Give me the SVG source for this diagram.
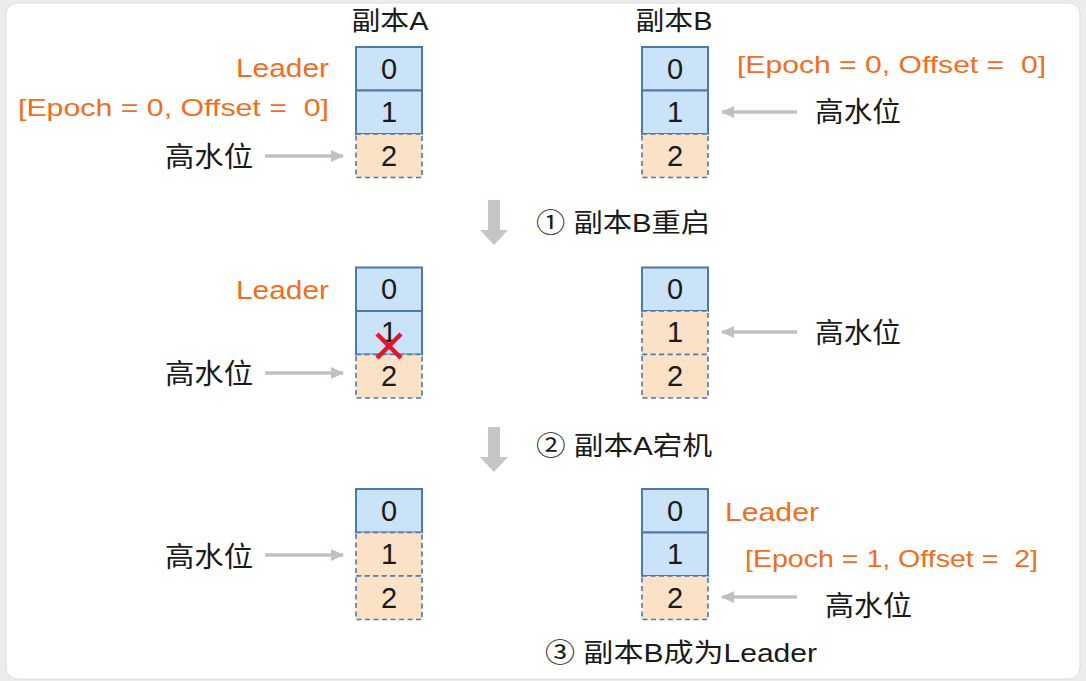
<svg xmlns="http://www.w3.org/2000/svg" width="1086" height="681" viewBox="0 0 1086 681">
<style>
.t{font-family:"Liberation Sans","Noto Sans CJK SC",sans-serif;fill:#1a1a1a}
.o{font-family:"Liberation Sans","Noto Sans CJK SC",sans-serif;fill:#f26d21}
.d{font-size:29px;text-anchor:middle}
.blue{fill:#cbe3f8;stroke:#4d7aa6;stroke-width:2}
.org{fill:#fbe1c5;stroke:#4d7aa6;stroke-width:1.6;stroke-dasharray:5 3.5}
.ga{stroke:#c4c0c2;stroke-width:3.5;fill:none}
.down{fill:#c9c5c7}
</style>
<defs>
<marker id="ah" markerWidth="14" markerHeight="12" refX="12" refY="6" orient="auto" markerUnits="userSpaceOnUse">
<path d="M0,0 L13,6 L0,12 Z" fill="#c4c0c2"/>
</marker>
</defs>
<rect x="0" y="0" width="1086" height="681" fill="#ececec"/>
<rect x="6" y="3" width="1074" height="676" rx="11" fill="#ffffff" stroke="#dcdcdc" stroke-width="1"/>

<!-- titles -->
<text class="t" x="390" y="30" font-size="26" text-anchor="middle" textLength="77" lengthAdjust="spacingAndGlyphs">副本A</text>
<text class="t" x="674" y="30" font-size="26" text-anchor="middle" textLength="77" lengthAdjust="spacingAndGlyphs">副本B</text>

<!-- Section 1 -->
<g id="s1-replicaA">
<rect class="blue" x="356" y="47" width="66" height="43.5"/>
<rect class="blue" x="356" y="90.5" width="66" height="43.5"/>
<rect class="org" x="356" y="134" width="66" height="43.5"/>
<text class="t d" x="389" y="79">0</text>
<text class="t d" x="389" y="122">1</text>
<text class="t d" x="389" y="166">2</text>
</g>
<g id="s1-replicaB">
<rect class="blue" x="642" y="47" width="66" height="43.5"/>
<rect class="blue" x="642" y="90.5" width="66" height="43.5"/>
<rect class="org" x="642" y="134" width="66" height="43.5"/>
<text class="t d" x="675" y="79">0</text>
<text class="t d" x="675" y="122">1</text>
<text class="t d" x="675" y="166">2</text>
</g>
<g id="s1-labels">
<text class="o" x="329" y="77" font-size="26" text-anchor="end" textLength="93" lengthAdjust="spacingAndGlyphs">Leader</text>
<text class="o" x="329" y="116" font-size="24" text-anchor="end" textLength="311" lengthAdjust="spacingAndGlyphs" xml:space="preserve">[Epoch = 0, Offset =  0]</text>
<text class="t" x="165" y="167" font-size="28" textLength="88" lengthAdjust="spacingAndGlyphs">高水位</text>
<text class="o" x="737" y="73" font-size="24" textLength="309" lengthAdjust="spacingAndGlyphs" xml:space="preserve">[Epoch = 0, Offset =  0]</text>
<text class="t" x="815" y="122" font-size="28" textLength="86" lengthAdjust="spacingAndGlyphs">高水位</text>
</g>

<!-- Section 2 -->
<g id="s2-replicaA">
<rect class="blue" x="356" y="267.5" width="66" height="43.5"/>
<rect class="blue" x="356" y="311" width="66" height="43.5"/>
<rect class="org" x="356" y="354.5" width="66" height="43.5"/>
<text class="t d" x="389" y="299">0</text>
<text class="t d" x="389" y="342">1</text>
<text class="t d" x="389" y="386">2</text>
<path d="M377,334 L401,358 M401,334 L377,358" stroke="#e5142a" stroke-width="4.5" stroke-linecap="butt"/>
</g>
<g id="s2-replicaB">
<rect class="blue" x="642" y="267.5" width="66" height="43.5"/>
<rect class="org" x="642" y="311" width="66" height="43.5"/>
<rect class="org" x="642" y="354.5" width="66" height="43.5"/>
<text class="t d" x="675" y="299">0</text>
<text class="t d" x="675" y="342">1</text>
<text class="t d" x="675" y="386">2</text>
</g>
<g id="s2-labels">
<text class="o" x="329" y="299" font-size="26" text-anchor="end" textLength="93" lengthAdjust="spacingAndGlyphs">Leader</text>
<text class="t" x="165" y="384" font-size="28" textLength="88" lengthAdjust="spacingAndGlyphs">高水位</text>
<text class="t" x="815" y="343" font-size="28" textLength="86" lengthAdjust="spacingAndGlyphs">高水位</text>
</g>

<!-- Section 3 -->
<g id="s3-replicaA">
<rect class="blue" x="356" y="489" width="66" height="43.5"/>
<rect class="org" x="356" y="532.5" width="66" height="43.5"/>
<rect class="org" x="356" y="576" width="66" height="43.5"/>
<text class="t d" x="389" y="521">0</text>
<text class="t d" x="389" y="564">1</text>
<text class="t d" x="389" y="608">2</text>
</g>
<g id="s3-replicaB">
<rect class="blue" x="642" y="489" width="66" height="43.5"/>
<rect class="blue" x="642" y="532.5" width="66" height="43.5"/>
<rect class="org" x="642" y="576" width="66" height="43.5"/>
<text class="t d" x="675" y="521">0</text>
<text class="t d" x="675" y="564">1</text>
<text class="t d" x="675" y="608">2</text>
</g>
<g id="s3-labels">
<text class="t" x="165" y="567" font-size="28" textLength="88" lengthAdjust="spacingAndGlyphs">高水位</text>
<text class="o" x="725" y="521" font-size="26" textLength="94" lengthAdjust="spacingAndGlyphs">Leader</text>
<text class="o" x="745" y="567" font-size="24" textLength="293" lengthAdjust="spacingAndGlyphs" xml:space="preserve">[Epoch = 1, Offset =  2]</text>
<text class="t" x="825" y="616" font-size="28" textLength="87" lengthAdjust="spacingAndGlyphs">高水位</text>
</g>

<!-- steps -->
<g id="step1">
<path class="down" d="M488,200 H500 V230 H508 L494,245 L480,230 H488 Z"/>
<text class="t" x="536" y="232" font-size="26" textLength="174" lengthAdjust="spacingAndGlyphs">① 副本B重启</text>
</g>
<g id="step2">
<path class="down" d="M488,427 H500 V457 H508 L494,472 L480,457 H488 Z"/>
<text class="t" x="536" y="455" font-size="26" textLength="176" lengthAdjust="spacingAndGlyphs">② 副本A宕机</text>
</g>
<g id="step3">
<text class="t" x="545" y="662" font-size="26" textLength="272" lengthAdjust="spacingAndGlyphs">③ 副本B成为Leader</text>
</g>

<!-- connectors -->
<g id="connectors">
<line class="ga" x1="265" y1="156" x2="343" y2="156" marker-end="url(#ah)"/>
<line class="ga" x1="797" y1="112" x2="722" y2="112" marker-end="url(#ah)"/>
<line class="ga" x1="265" y1="373" x2="343" y2="373" marker-end="url(#ah)"/>
<line class="ga" x1="797" y1="332" x2="722" y2="332" marker-end="url(#ah)"/>
<line class="ga" x1="265" y1="555" x2="343" y2="555" marker-end="url(#ah)"/>
<line class="ga" x1="797" y1="597" x2="722" y2="597" marker-end="url(#ah)"/>
</g>
</svg>
